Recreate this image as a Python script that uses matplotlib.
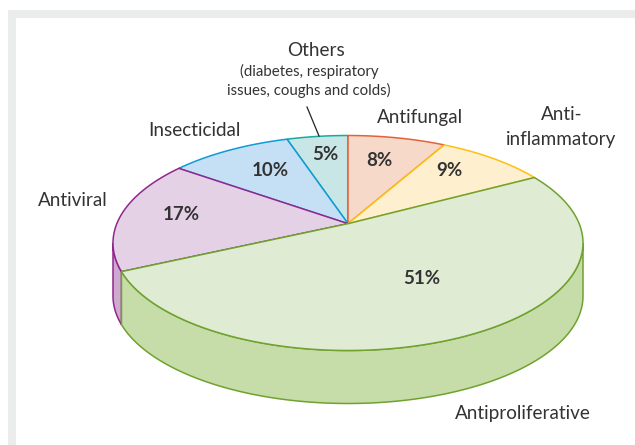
import matplotlib.pyplot as plt
import numpy as np
from matplotlib.patches import Polygon, Rectangle

plt.rcParams['font.family'] = ['Lato', 'DejaVu Sans']

# clockwise from 12 o'clock
categories = ['Antifungal', 'Anti-inflammatory', 'Antiproliferative', 'Antiviral', 'Insecticidal', 'Others']
values = [8, 9, 51, 17, 10, 5]

top_colors = ['#F6D9C8', '#FEEFCF', '#DFEBD2', '#E5D1E6', '#C5E0F4', '#C8E6E5']
side_colors = ['#F0C0A8', '#FBDD9A', '#C6DDA9', '#CFA9CF', '#A0CCEC', '#A0D5D2']
edge_colors = ['#E2633A', '#FDC013', '#6FA22E', '#90278E', '#0F9BD7', '#1AA9A0']
draw_order = [5, 0, 4, 3, 1, 2]

# pie geometry in pixels
cx, cy = 348, 243
rx, ry = 235, 107.5
depth = 53
tilt = 0.18  # perspective, moves the apex up from the ellipse centre

fig = plt.figure(figsize=(6.35, 4.45), dpi=100)
ax = fig.add_axes([0, 0, 1, 1])
ax.set_xlim(0, 635)
ax.set_ylim(445, 0)
ax.axis('off')

# grey frame
ax.add_patch(Rectangle((8, 10), 627, 8, fc='#EBECEC', ec='none'))
ax.add_patch(Rectangle((8, 10), 8, 435, fc='#EBECEC', ec='none'))


def project(frac):
    a = 2 * np.pi * np.asarray(frac)
    x, y = np.sin(a), np.cos(a)
    d = 1 + tilt * y
    return x * np.sqrt(1 - tilt ** 2) / d, (y + tilt) / d


fracs = np.cumsum([0] + values) / sum(values)

# walls first
for i in [3, 2]:
    t = np.linspace(fracs[i], fracs[i + 1], 600)
    X, Y = project(t)
    keep = Y <= 0
    px = cx + rx * X[keep]
    py = cy - ry * Y[keep]
    pts = np.column_stack([np.r_[px, px[::-1]], np.r_[py, py[::-1] + depth]])
    ax.add_patch(Polygon(pts, closed=True, fc=side_colors[i], ec=edge_colors[i], lw=1.1))

apex = (cx, cy - ry * tilt)
for i in draw_order:
    t = np.linspace(fracs[i], fracs[i + 1], 200)
    X, Y = project(t)
    pts = np.column_stack([cx + rx * X, cy - ry * Y])
    pts = np.vstack([apex, pts])
    ax.add_patch(Polygon(pts, closed=True, fc=top_colors[i], ec=edge_colors[i], lw=1.1, joinstyle='round'))

# percentages
pct_pos = [(379, 161), (449, 171), (422, 278), (181, 214), (270, 170), (325, 155)]
for v, (x, y) in zip(values, pct_pos):
    ax.text(x, y, '{}%'.format(v), ha='center', va='center', fontsize=13.5,
            fontweight='bold', color='#333333')

# labels
txt = dict(ha='center', va='center', color='#333333', fontsize=13.6)
ax.text(420, 118, categories[0], **txt)
ax.text(562, 114, 'Anti-', **txt)
ax.text(561, 140, 'inflammatory', **txt)
ax.text(523, 413, categories[2], **txt)
ax.text(73, 201, categories[3], **txt)
ax.text(194, 130, categories[4], **txt)
ax.text(316, 50, categories[5], **txt)
ax.text(309, 71, '(diabetes, respiratory', ha='center', va='center', color='#333333', fontsize=10.8)
ax.text(309, 90, 'issues, coughs and colds)', ha='center', va='center', color='#333333', fontsize=10.8)

# leader for Others
ax.plot([307, 319], [107, 136], color='#222222', lw=0.9)

fig.savefig('out.png', dpi=100)
